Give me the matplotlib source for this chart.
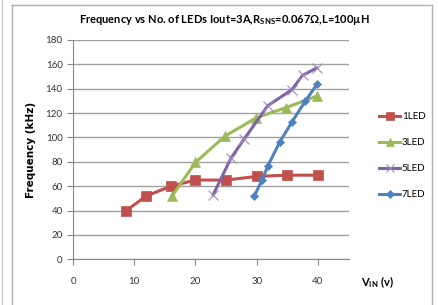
import matplotlib
matplotlib.use("Agg")
import matplotlib.pyplot as plt
from matplotlib.lines import Line2D

plt.rcParams['font.family'] = ['Lato', 'DejaVu Sans']

# Data
vin_1led = [8.7, 12, 16, 20, 25, 30, 35, 40]
freq_1led = [40, 52, 60, 65, 65, 68, 69, 69]

vin_3led = [16.2, 20, 24.8, 29.9, 34.8, 39.9]
freq_3led = [52, 79.5, 101, 116, 124.5, 134]

vin_5led = [22.9, 25.8, 28, 31.8, 35.7, 37.5, 39.8]
freq_5led = [53, 83, 99, 126, 139, 151, 157]

vin_7led = [29.6, 30.9, 31.8, 33.8, 35.8, 37.9, 39.9]
freq_7led = [52, 65, 76.5, 96.5, 113, 129.5, 144]

x_ticks = [0, 10, 20, 30, 40]
y_ticks = list(range(0, 181, 20))

series = [
    ('1LED', vin_1led, freq_1led, '#C0504D', 's', 6.5),
    ('3LED', vin_3led, freq_3led, '#9BBB59', '^', 6.5),
    ('5LED', vin_5led, freq_5led, '#8064A2', 'x', 6.5),
    ('7LED', vin_7led, freq_7led, '#4F81BD', 'D', 4.5),
]

fig = plt.figure(figsize=(4.38, 3.05), dpi=100)
ax = fig.add_axes([0.1667, 0.150, 0.629, 0.719])

handles = []
for name, xs, ys, color, marker, ms in series:
    h, = ax.plot(xs, ys, color=color, marker=marker, markersize=ms, linewidth=2.2,
                 markeredgewidth=0.8 if marker == 'x' else 0.5, label=name)
    if marker == 'x':
        h.set_markeredgecolor('#A08CC0')
    handles.append(h)

ax.set_xlim(0, 45)
ax.set_ylim(0, 180)
ax.set_xticks(x_ticks)
ax.set_yticks(y_ticks)
ax.yaxis.grid(True, color='#A0A0A0', linewidth=1)
ax.set_axisbelow(True)
for s in ['top', 'right']:
    ax.spines[s].set_visible(False)
for s in ['left', 'bottom']:
    ax.spines[s].set_color('#888888')
ax.tick_params(axis='both', colors='#888888', labelcolor='#333333', labelsize=7,
               length=4, direction='out')
ax.tick_params(axis='x', pad=9)

ax.set_title('Frequency vs No. of LEDs Iout=3A,R$_{\\mathregular{SNS}}$=0.067\u03a9,L=100\u00b5H',
             fontsize=8, fontweight='bold', pad=12, x=0.55)
ax.set_ylabel('Frequency (kHz)', fontsize=7.5, fontweight='bold', labelpad=7,
              family='DejaVu Sans')
fig.text(0.862, 0.075, 'V$_{\\mathregular{IN}}$ (v)', fontsize=8, fontweight='bold',
         ha='center', va='center')

ax.legend(handles=handles, loc='center left', bbox_to_anchor=(379 / 438, 0.489),
          bbox_transform=fig.transFigure, borderpad=0, borderaxespad=0,
          frameon=False, fontsize=7, handlelength=2.2, handletextpad=0.15,
          labelspacing=1.75, markerscale=0.85)

# chart area border
fig.add_artist(Line2D([12 / 438, 12 / 438], [0, 1 - 5 / 305], color='#B0B0B0', lw=1))
fig.add_artist(Line2D([12 / 438, 432 / 438], [1 - 5 / 305, 1 - 5 / 305], color='#B0B0B0', lw=1))
fig.add_artist(Line2D([432 / 438, 432 / 438], [0, 1 - 5 / 305], color='#B0B0B0', lw=1))
fig.add_artist(Line2D([2 / 438, 2 / 438], [0, 1], color='#C8C8C8', lw=1))

fig.savefig('out.png', dpi=100, facecolor='white')
